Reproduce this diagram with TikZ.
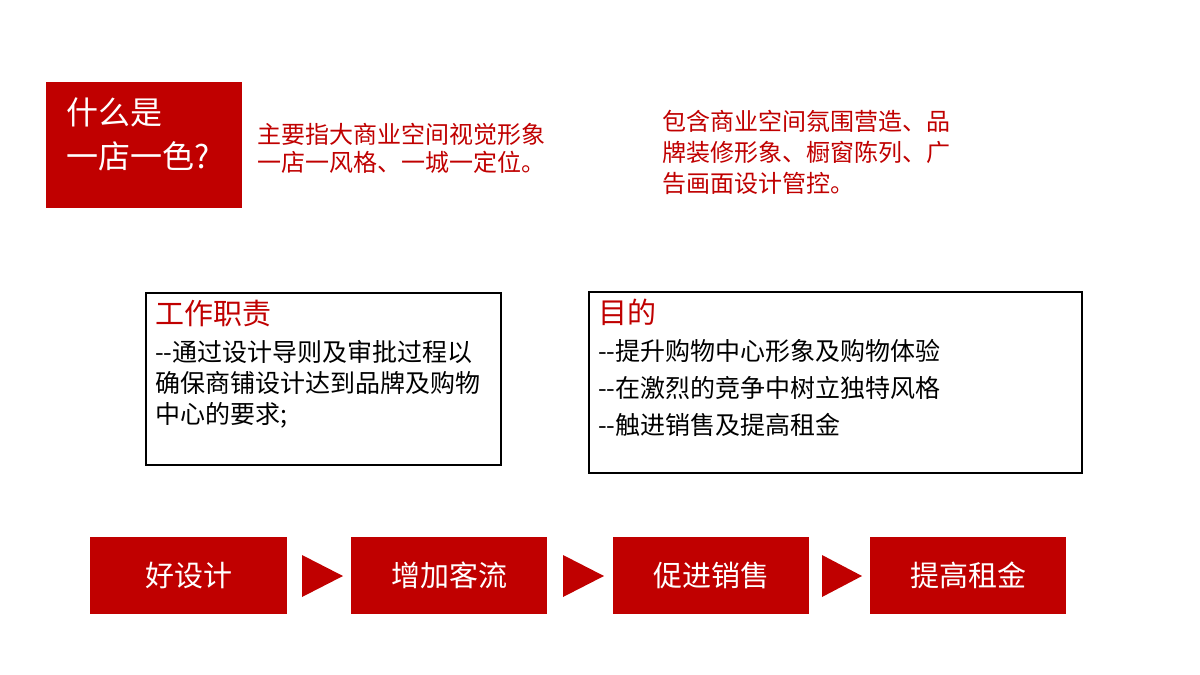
\documentclass[tikz,border=0pt]{standalone}
\usepackage{fontspec}
\newfontfamily\cjk{Noto Sans CJK SC}
\definecolor{myred}{HTML}{C00000}
\begin{document}
\begin{tikzpicture}[x=1pt,y=-1pt,
  redbox/.style={fill=myred,draw=none,text=white,font=\cjk\fontsize{29}{32}\selectfont},
  frame/.style={draw=black,line width=2pt,fill=none},
  rtxt/.style={text=myred,font=\cjk\fontsize{24}{28}\selectfont,anchor=north west,inner sep=0pt,align=left},
  btxt/.style={text=black,font=\cjk\fontsize{25}{31}\selectfont,anchor=north west,inner sep=0pt,align=left},
  ttl/.style={text=myred,font=\cjk\fontsize{29}{32}\selectfont,anchor=north west,inner sep=0pt},
  tri/.style={fill=myred,draw=none}]
\useasboundingbox (0,0) rectangle (1200,675);
\fill[white] (0,0) rectangle (1200,675);
\fill[myred] (46,82) rectangle (242,208);
\node[text=white,font=\cjk\fontsize{32}{44}\selectfont,anchor=north west,inner sep=0pt,align=left] (q) at (66,98) {什么是\\一店一色?};
\node[rtxt] (t1) at (257,123) {主要指大商业空间视觉形象\\一店一风格、一城一定位。};
\node[rtxt,font=\cjk\fontsize{24}{31}\selectfont] (t2) at (662,110) {包含商业空间氛围营造、品\\牌装修形象、橱窗陈列、广\\告画面设计管控。};
\draw[frame] (146,293) rectangle (501,465);
\node[ttl] (h1) at (155,300) {工作职责};
\node[btxt,font=\cjk\fontsize{25}{31}\selectfont] (b1) at (155,340) {--通过设计导则及审批过程以\\确保商铺设计达到品牌及购物\\中心的要求;};
\draw[frame] (589,292) rectangle (1082,473);
\node[ttl] (h2) at (598,299) {目的};
\node[btxt,font=\cjk\fontsize{25}{37}\selectfont] (b2) at (598,339) {--提升购物中心形象及购物体验\\--在激烈的竞争中树立独特风格\\--触进销售及提高租金};
\node[redbox,minimum width=197pt,minimum height=77pt,anchor=north west] (s1) at (90,537) {好设计};
\node[redbox,minimum width=196pt,minimum height=77pt,anchor=north west] (s2) at (351,537) {增加客流};
\node[redbox,minimum width=196pt,minimum height=77pt,anchor=north west] (s3) at (613,537) {促进销售};
\node[redbox,minimum width=196pt,minimum height=77pt,anchor=north west] (s4) at (870,537) {提高租金};
\fill[tri] (302,555) -- (343,576) -- (302,597) -- cycle;
\fill[tri] (563,555) -- (604,576) -- (563,597) -- cycle;
\fill[tri] (822,555) -- (862,576) -- (822,597) -- cycle;
\end{tikzpicture}
\end{document}
